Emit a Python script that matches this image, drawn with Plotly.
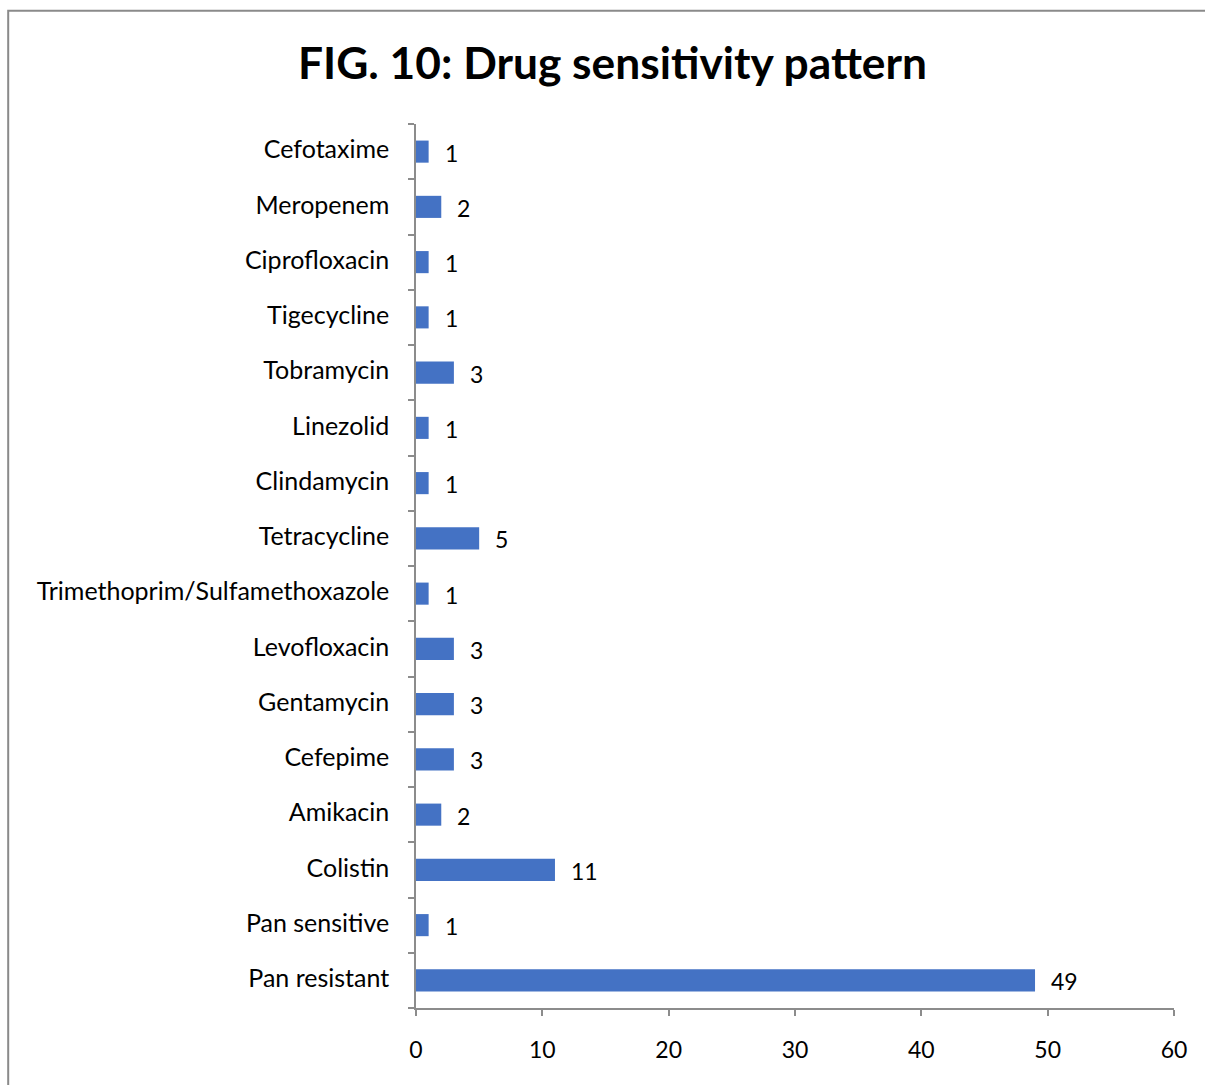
import plotly.graph_objects as go

# Drugs listed bottom-to-top as they appear on the category axis
drugs = [
    "Pan resistant", "Pan sensitive", "Colistin", "Amikacin", "Cefepime",
    "Gentamycin", "Levofloxacin", "Trimethoprim/Sulfamethoxazole",
    "Tetracycline", "Clindamycin", "Linezolid", "Tobramycin",
    "Tigecycline", "Ciprofloxacin", "Meropenem", "Cefotaxime",
]
counts = [49, 1, 11, 2, 3, 3, 3, 1, 5, 1, 1, 3, 1, 1, 2, 1]
x_ticks = [0, 10, 20, 30, 40, 50, 60]

FONT = "Lato"
AXIS_GRAY = "#8c8c8c"

fig = go.Figure(
    go.Bar(
        x=counts,
        y=drugs,
        orientation="h",
        width=0.4,
        marker=dict(color="#4472C4", line=dict(width=0)),
        hoverinfo="x+y",
    )
)

# value labels to the right of each bar
for d, c in zip(drugs, counts):
    fig.add_annotation(
        x=c, y=d, text=str(c), showarrow=False,
        xanchor="left", yanchor="middle", xshift=14, yshift=-1,
        font=dict(family=FONT, size=23, color="#000000"),
    )

# outer chart border
fig.add_shape(
    type="rect", xref="paper", yref="paper",
    x0=-0.538, x1=1.06, y0=-0.1, y1=1.128,
    line=dict(color="#8a8a8a", width=2), fillcolor="rgba(0,0,0,0)",
    layer="below",
)

fig.update_layout(
    width=1205, height=1085,
    margin=dict(l=416, r=31, t=124, b=77),
    paper_bgcolor="white", plot_bgcolor="white",
    showlegend=False,
    title=dict(
        text="<b>FIG. 10: Drug sensitivity pattern</b>",
        x=612.5 / 1205, xref="container", xanchor="center",
        y=1 - 63 / 1085, yref="container", yanchor="middle",
        font=dict(family=FONT, size=44.3, color="#000000"),
    ),
    xaxis=dict(
        range=[0, 60], tickvals=x_ticks,
        showgrid=False, zeroline=False,
        showline=True, linecolor=AXIS_GRAY, linewidth=1.5,
        ticks="outside", ticklen=6, tickwidth=1.5, tickcolor=AXIS_GRAY,
        ticklabelstandoff=15,
        tickfont=dict(family=FONT, size=23, color="#000000"),
        fixedrange=True,
    ),
    yaxis=dict(
        type="category", categoryorder="array", categoryarray=drugs,
        range=[-0.5, len(drugs) - 0.5],
        showgrid=False, zeroline=False,
        showline=True, linecolor=AXIS_GRAY, linewidth=1.5,
        ticks="outside", ticklen=6, tickwidth=1.5, tickcolor=AXIS_GRAY,
        tickson="boundaries",
        ticklabelstandoff=20,
        ticklabelshift=-2,
        tickfont=dict(family=FONT, size=25, color="#000000"),
        fixedrange=True,
    ),
)

fig.write_html("out.html")
